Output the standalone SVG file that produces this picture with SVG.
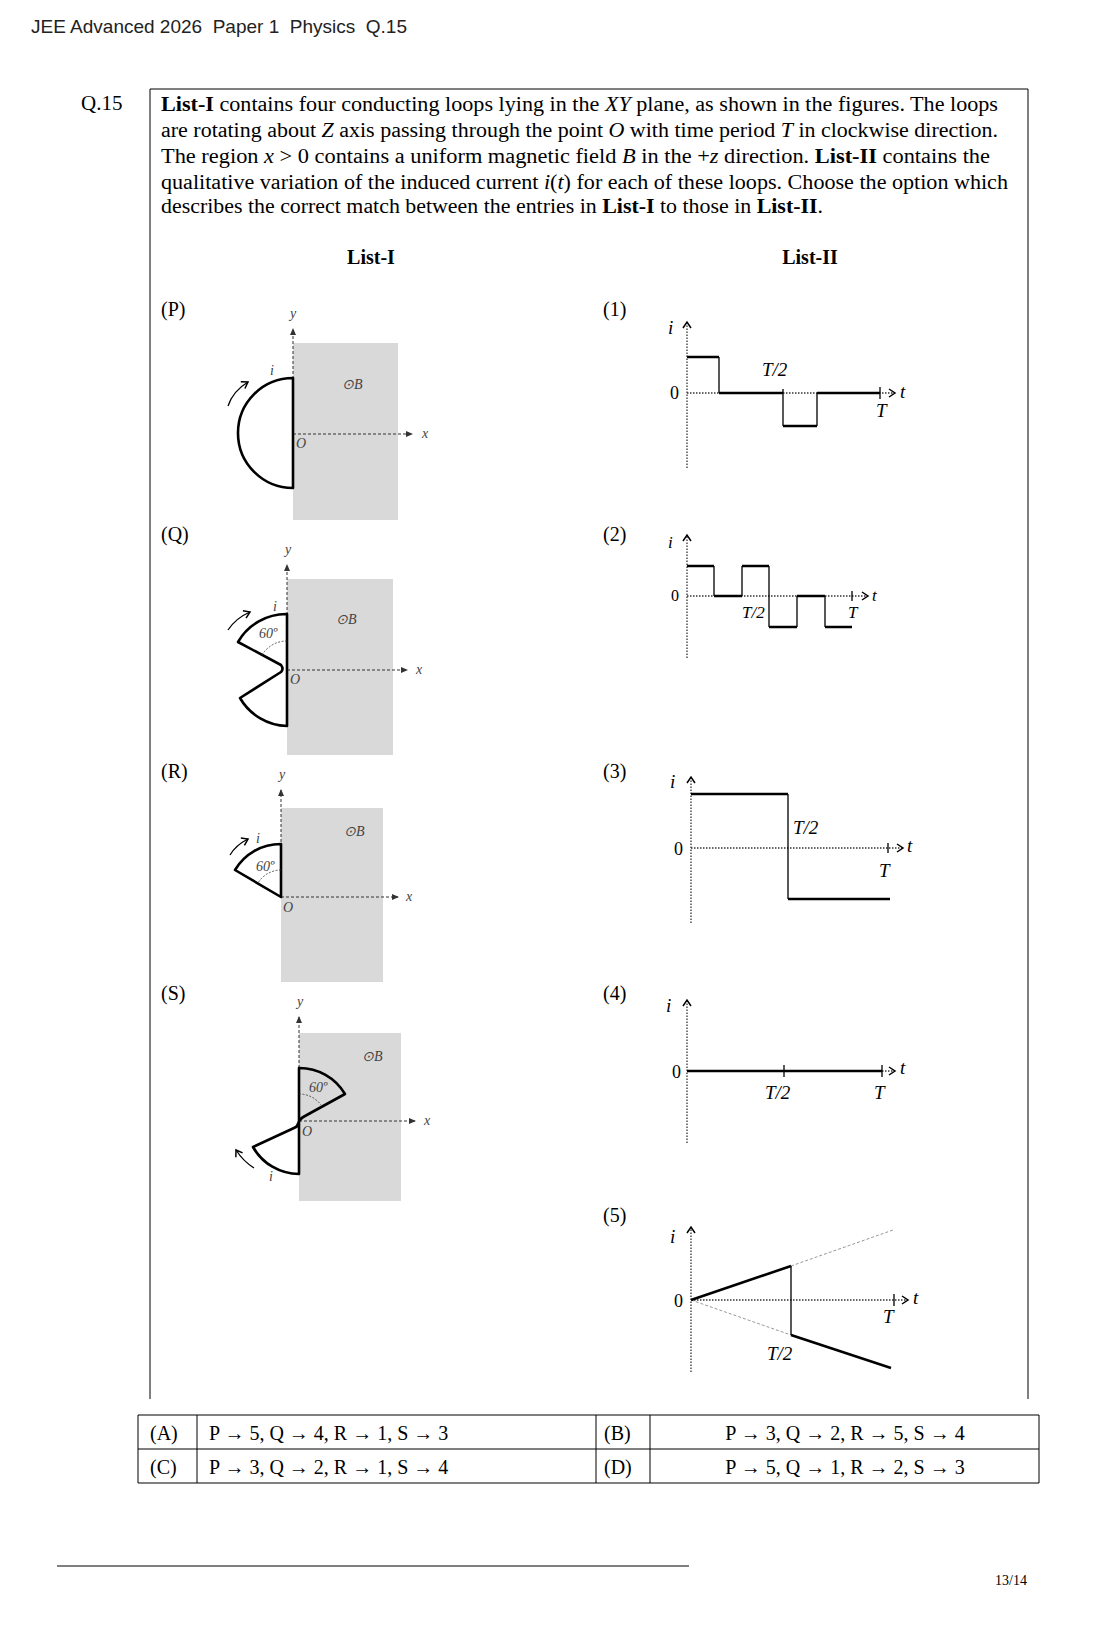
<svg xmlns="http://www.w3.org/2000/svg" width="1119" height="1630" viewBox="0 0 1119 1630">
<style>
.s{font-family:"Liberation Serif",serif;fill:#000}
.m{font-family:"Liberation Serif",serif;font-style:italic;fill:#000}
.sm{font-family:"Liberation Serif",serif;font-style:italic;font-size:14px;fill:#444}
.g{fill:#d9d9d9}
.ax{stroke:#333;stroke-width:1;stroke-dasharray:3 2;fill:none}
.dot{stroke:#333;stroke-width:1.3;stroke-dasharray:1.5 1.5;fill:none}
.loop{stroke:#000;stroke-width:2.6;fill:none;stroke-linejoin:round}
.cur{stroke:#000;stroke-width:2.6;fill:none}
.thin{stroke:#000;stroke-width:1.3;fill:none}
.ang{stroke:#333;stroke-width:0.8;stroke-dasharray:2 1.5;fill:none}
.gl{stroke:#999;stroke-width:1;stroke-dasharray:3 2;fill:none}
.tb{stroke:#000;stroke-width:1;fill:none}
</style>
<defs>
<marker id="ah" markerWidth="8" markerHeight="8" refX="6" refY="4" orient="auto" markerUnits="userSpaceOnUse"><path d="M0,1 L7,4 L0,7 Z" fill="#333"/></marker>
<marker id="oa" markerWidth="10" markerHeight="10" refX="7" refY="5" orient="auto" markerUnits="userSpaceOnUse"><path d="M1,1 L7,5 L1,9" fill="none" stroke="#000" stroke-width="1.5"/></marker>
</defs>
<rect width="1119" height="1630" fill="#fff"/>
<text x="31" y="33" font-family="Liberation Sans,sans-serif" font-size="19" fill="#222" xml:space="preserve">JEE Advanced 2026  Paper 1  Physics  Q.15</text>
<text class="s" x="81" y="110" font-size="21">Q.15</text>
<path class="tb" d="M150,1399 V89 H1028 V1399"/>
<g font-size="20">
<text class="s" x="161" y="111" textLength="837" lengthAdjust="spacingAndGlyphs"><tspan font-weight="bold">List-I</tspan>  contains four conducting loops lying in the <tspan class="m">XY</tspan> plane, as shown in the figures. The loops</text>
<text class="s" x="161" y="137" textLength="837" lengthAdjust="spacingAndGlyphs">are rotating about <tspan class="m">Z</tspan> axis passing through the point <tspan class="m">O</tspan> with time period <tspan class="m">T</tspan> in clockwise direction.</text>
<text class="s" x="161" y="163" textLength="829" lengthAdjust="spacingAndGlyphs">The region <tspan class="m">x</tspan> &gt; 0 contains a uniform magnetic field <tspan class="m">B</tspan> in the +<tspan class="m">z</tspan> direction. <tspan font-weight="bold">List-II</tspan> contains the</text>
<text class="s" x="161" y="189" textLength="847" lengthAdjust="spacingAndGlyphs">qualitative variation of the induced current <tspan class="m">i</tspan>(<tspan class="m">t</tspan>) for each of these loops. Choose the option which</text>
<text class="s" x="161" y="213" textLength="662" lengthAdjust="spacingAndGlyphs">describes the correct match between the entries in <tspan font-weight="bold">List-I</tspan> to those in <tspan font-weight="bold">List-II</tspan>.</text>
<text class="s" x="371" y="264" text-anchor="middle" font-weight="bold">List-I</text>
<text class="s" x="810" y="264" text-anchor="middle" font-weight="bold">List-II</text>
<text class="s" x="161" y="316">(P)</text>
<text class="s" x="161" y="541">(Q)</text>
<text class="s" x="161" y="778">(R)</text>
<text class="s" x="161" y="1000">(S)</text>
<text class="s" x="603" y="316">(1)</text>
<text class="s" x="603" y="541">(2)</text>
<text class="s" x="603" y="778">(3)</text>
<text class="s" x="603" y="1000">(4)</text>
<text class="s" x="603" y="1222">(5)</text>
</g>

<g id="P">
<rect class="g" x="293" y="343" width="105" height="177"/>
<line class="ax" x1="293" y1="434" x2="293" y2="329" marker-end="url(#ah)"/>
<line class="ax" x1="293" y1="434" x2="412" y2="434" marker-end="url(#ah)"/>
<text class="sm" x="290" y="318">y</text><text class="sm" x="422" y="438">x</text><text class="sm" x="296" y="448">O</text>
<text class="sm" x="342" y="389" font-style="normal">⊙<tspan font-style="italic">B</tspan></text>
<path class="loop" d="M293,378 A55,55 0 0 0 293,488 Z"/>
<text class="sm" x="270" y="375">i</text>
<path class="thin" d="M228,406 Q233,391 248,382" marker-end="url(#oa)"/>
</g>

<g id="Q">
<rect class="g" x="287" y="579" width="106" height="176"/>
<line class="ax" x1="287" y1="670" x2="287" y2="565" marker-end="url(#ah)"/>
<line class="ax" x1="287" y1="670" x2="407" y2="670" marker-end="url(#ah)"/>
<text class="sm" x="285" y="554">y</text><text class="sm" x="416" y="674">x</text><text class="sm" x="290" y="684">O</text>
<text class="sm" x="336" y="624" font-style="normal">⊙<tspan font-style="italic">B</tspan></text>
<path class="loop" d="M287,614 A56,56 0 0 0 238,642 L281,665 Q284,669 281,672 L240,698 A56,56 0 0 0 287,726 Z"/>
<path class="ang" d="M287,641 A29,29 0 0 0 262,655"/>
<text class="sm" x="259" y="638" font-style="normal" font-size="12">60º</text>
<text class="sm" x="273" y="611">i</text>
<path class="thin" d="M228,630 Q236,618 250,612" marker-end="url(#oa)"/>
</g>

<g id="R">
<rect class="g" x="281" y="808" width="102" height="174"/>
<line class="ax" x1="281" y1="897" x2="281" y2="790" marker-end="url(#ah)"/>
<line class="ax" x1="281" y1="897" x2="398" y2="897" marker-end="url(#ah)"/>
<text class="sm" x="279" y="779">y</text><text class="sm" x="406" y="901">x</text><text class="sm" x="283" y="912">O</text>
<text class="sm" x="344" y="836" font-style="normal">⊙<tspan font-style="italic">B</tspan></text>
<path class="loop" d="M281,844 A53,53 0 0 0 235,870 L281,897 Z"/>
<path class="ang" d="M281,870 A27,27 0 0 0 258,883"/>
<text class="sm" x="256" y="871" font-style="normal" font-size="12">60º</text>
<text class="sm" x="256" y="843">i</text>
<path class="thin" d="M230,855 Q236,845 248,839" marker-end="url(#oa)"/>
</g>

<g id="S">
<rect class="g" x="299" y="1033" width="102" height="168"/>
<line class="ax" x1="299" y1="1068" x2="299" y2="1017" marker-end="url(#ah)"/>
<line class="ax" x1="299" y1="1121" x2="415" y2="1121" marker-end="url(#ah)"/>
<text class="sm" x="297" y="1006">y</text><text class="sm" x="424" y="1125">x</text><text class="sm" x="302" y="1136">O</text>
<text class="sm" x="362" y="1061" font-style="normal">⊙<tspan font-style="italic">B</tspan></text>
<path class="loop" d="M299,1068 A53,53 0 0 1 345,1094 L305,1116 Q299,1119 298,1124 Q297,1127 294,1128 L253,1147 A53,53 0 0 0 299,1174 Z"/>
<path class="ang" d="M299,1094 A27,27 0 0 1 321,1105"/>
<text class="sm" x="309" y="1092" font-style="normal" font-size="12">60º</text>
<text class="sm" x="269" y="1181">i</text>
<path class="thin" d="M254,1168 Q243,1161 236,1150" marker-end="url(#oa)"/>
</g>

<g id="G1">
<line class="dot" x1="687" y1="468" x2="687" y2="322" marker-end="url(#oa)"/>
<line class="dot" x1="687" y1="393" x2="895" y2="393" marker-end="url(#oa)"/>
<path class="cur" d="M687,357 H719 M719,393 H783 M783,426 H817 M817,393 H880"/>
<path class="thin" d="M719,357 V393 M783,393 V426 M817,426 V393 M880,387 V399 M783,389 V393"/>
<text class="m" x="668" y="334" font-size="19">i</text>
<text class="s" x="670" y="399" font-size="18">0</text>
<text class="m" x="900" y="398" font-size="19">t</text>
<text class="m" x="762" y="376" font-size="19">T/2</text>
<text class="m" x="876" y="417" font-size="19">T</text>
</g>

<g id="G2">
<line class="dot" x1="687" y1="658" x2="687" y2="535" marker-end="url(#oa)"/>
<line class="dot" x1="687" y1="596" x2="868" y2="596" marker-end="url(#oa)"/>
<path class="cur" d="M687,566 H714 M714,596 H742 M742,566 H769 M769,627 H797 M797,596 H825 M825,627 H852"/>
<path class="thin" d="M714,566 V596 M742,596 V566 M769,566 V627 M797,627 V596 M825,596 V627 M852,591 V601"/>
<text class="m" x="668" y="548" font-size="17">i</text>
<text class="s" x="671" y="601" font-size="16">0</text>
<text class="m" x="872" y="601" font-size="17">t</text>
<text class="m" x="742" y="618" font-size="17">T/2</text>
<text class="m" x="848" y="618" font-size="17">T</text>
</g>

<g id="G3">
<line class="dot" x1="691" y1="923" x2="691" y2="777" marker-end="url(#oa)"/>
<line class="dot" x1="691" y1="848" x2="903" y2="848" marker-end="url(#oa)"/>
<path class="cur" d="M691,794 H788 M788,899 H890"/>
<path class="thin" d="M788,794 V899 M888,843 V853"/>
<text class="m" x="670" y="788" font-size="19">i</text>
<text class="s" x="674" y="855" font-size="18">0</text>
<text class="m" x="907" y="852" font-size="19">t</text>
<text class="m" x="793" y="834" font-size="19">T/2</text>
<text class="m" x="879" y="877" font-size="19">T</text>
</g>

<g id="G4">
<line class="dot" x1="687" y1="1143" x2="687" y2="1000" marker-end="url(#oa)"/>
<line class="dot" x1="687" y1="1071" x2="895" y2="1071" marker-end="url(#oa)"/>
<path class="cur" d="M687,1071 H882"/>
<path class="thin" d="M784,1065 V1077 M882,1065 V1077"/>
<text class="m" x="666" y="1012" font-size="19">i</text>
<text class="s" x="672" y="1078" font-size="18">0</text>
<text class="m" x="900" y="1074" font-size="19">t</text>
<text class="m" x="765" y="1099" font-size="19">T/2</text>
<text class="m" x="874" y="1099" font-size="19">T</text>
</g>

<g id="G5">
<line class="dot" x1="691" y1="1372" x2="691" y2="1227" marker-end="url(#oa)"/>
<line class="dot" x1="691" y1="1300" x2="908" y2="1300" marker-end="url(#oa)"/>
<path class="gl" d="M791,1266 L893,1230 M691,1300 L791,1335"/>
<path class="cur" d="M691,1300 L791,1266 M791,1335 L891,1368"/>
<path class="thin" d="M791,1266 V1335 M894,1294 V1306"/>
<text class="m" x="670" y="1243" font-size="19">i</text>
<text class="s" x="674" y="1307" font-size="18">0</text>
<text class="m" x="913" y="1304" font-size="19">t</text>
<text class="m" x="767" y="1360" font-size="19">T/2</text>
<text class="m" x="883" y="1323" font-size="19">T</text>
</g>

<g id="options" font-size="20">
<path class="tb" d="M138,1415 H1039 V1483 H138 Z M138,1449 H1039 M197,1415 V1483 M596,1415 V1483 M650,1415 V1483"/>
<text class="s" x="150" y="1440">(A)</text>
<text class="s" x="150" y="1474">(C)</text>
<text class="s" x="604" y="1440">(B)</text>
<text class="s" x="604" y="1474">(D)</text>
<text class="s" x="209" y="1440">P → 5, Q → 4, R → 1, S → 3</text>
<text class="s" x="209" y="1474">P → 3, Q → 2, R → 1, S → 4</text>
<text class="s" x="845" y="1440" text-anchor="middle">P → 3, Q → 2, R → 5, S → 4</text>
<text class="s" x="845" y="1474" text-anchor="middle">P → 5, Q → 1, R → 2, S → 3</text>
</g>
<line x1="57" y1="1566" x2="689" y2="1566" stroke="#000" stroke-width="1"/>
<text class="s" x="995" y="1585" font-size="14">13/14</text>
</svg>
